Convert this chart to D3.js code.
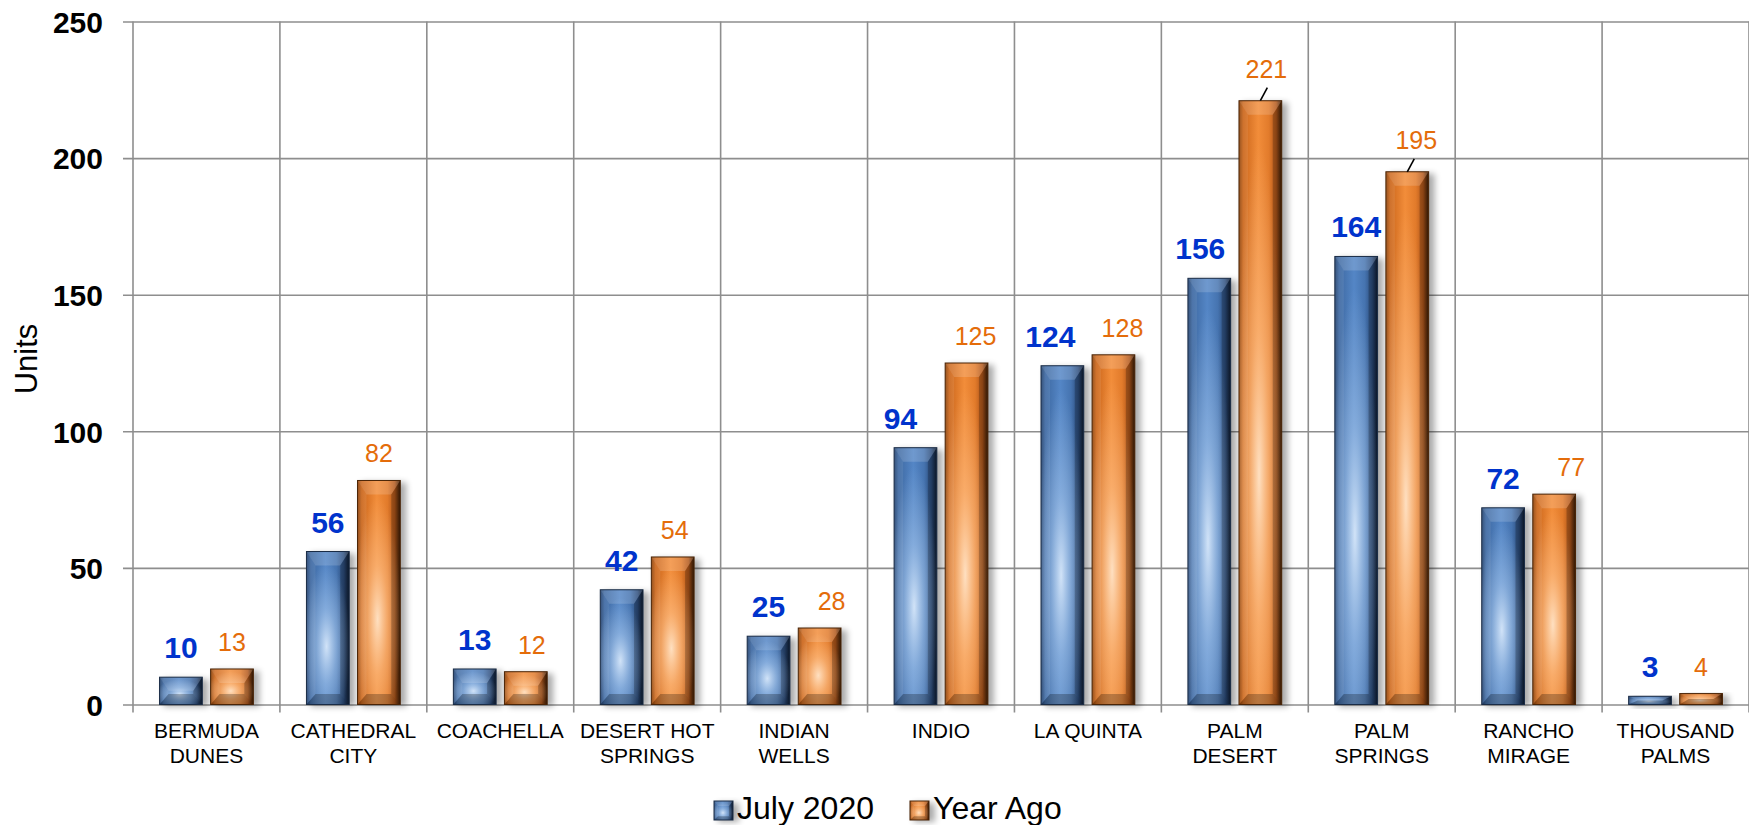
<!DOCTYPE html>
<html><head><meta charset="utf-8">
<script src="https://cdn.jsdelivr.net/npm/d3@7"></script>
<style>
html,body{margin:0;padding:0;background:#fff;}
svg{display:block;font-family:"Liberation Sans",Arial,Helvetica,sans-serif;}
</style></head><body>
<svg id="chart" width="1749" height="825"></svg>
<script>
// ---------------- data ----------------
const categories = ["BERMUDA DUNES","CATHEDRAL CITY","COACHELLA","DESERT HOT SPRINGS","INDIAN WELLS","INDIO","LA QUINTA","PALM DESERT","PALM SPRINGS","RANCHO MIRAGE","THOUSAND PALMS"];
const categoryLines = [["BERMUDA","DUNES"],["CATHEDRAL","CITY"],["COACHELLA"],["DESERT HOT","SPRINGS"],["INDIAN","WELLS"],["INDIO"],["LA QUINTA"],["PALM","DESERT"],["PALM","SPRINGS"],["RANCHO","MIRAGE"],["THOUSAND","PALMS"]];
const seriesNames = ["July 2020","Year Ago"];
const july2020 = [10,56,13,42,25,94,124,156,164,72,3];
const yearAgo  = [13,82,12,54,28,125,128,221,195,77,4];
const yTicks = [0,50,100,150,200,250];
const yTitle = "Units";

// ---------------- label placement (style) ----------------
const labelNudgeX = { "July 2020":[0,0,0,0,0,-15,-12,-9,0,0,0], "Year Ago":[0,0,6,2,12,9,9,6,9,17,0] };
const leaderIdx = { "Year Ago":[7,8] };

// ---------------- layout ----------------
const W = 1749, H = 825;
const plotL = 133, plotR = 1749, plotT = 21.5, plotB = 704.5;
const svg = d3.select("#chart");

const y = d3.scaleLinear().domain([0,250]).range([plotB, plotT]);
const x0 = d3.scaleBand().domain(categories).range([plotL, plotR]);
const x1 = d3.scaleBand().domain(seriesNames).range([0, x0.bandwidth()]).paddingInner(0.163).paddingOuter(0.52);

const styles = {
  "July 2020": {body:"bodyBlue", glow:"glowBlue", stroke:"#1a2c46", label:"#0033CC", weight:"bold", size:30, gap:19},
  "Year Ago":  {body:"bodyOrange", glow:"glowOrange", stroke:"#4a2406", label:"#E46C0A", weight:"normal", size:25, gap:18}
};

// ---------------- defs ----------------
const defs = svg.append("defs");
function linGrad(id, stops){
  const g = defs.append("linearGradient").attr("id", id).attr("x1",0).attr("y1",0).attr("x2",1).attr("y2",0);
  stops.forEach(s=>g.append("stop").attr("offset",s[0]).attr("stop-color",s[1]));
}
function radGrad(id, stops){
  const g = defs.append("radialGradient").attr("id", id).attr("cx",0.47).attr("cy",0.62).attr("r",0.55);
  stops.forEach(s=>g.append("stop").attr("offset",s[0]).attr("stop-color",s[1]).attr("stop-opacity",s[2]));
}
linGrad("bodyBlue", [[0,"#26446f"],[0.1,"#3e69a2"],[0.45,"#5486c6"],[0.7,"#4674b0"],[0.87,"#2d4e7e"],[1,"#0f1c30"]]);
radGrad("glowBlue", [[0,"#d8e8fa",0.95],[0.45,"#a9c9ee",0.55],[1,"#a9c9ee",0]]);
linGrad("bodyOrange", [[0,"#8e450d"],[0.1,"#cc671c"],[0.45,"#f28d3a"],[0.7,"#e27b2b"],[0.87,"#b2571a"],[1,"#3b1d06"]]);
radGrad("glowOrange", [[0,"#ffe4c8",0.95],[0.45,"#ffc48e",0.55],[1,"#ffc48e",0]]);
const f = defs.append("filter").attr("id","shadow").attr("x","-30%").attr("y","-30%").attr("width","160%").attr("height","160%");
f.append("feGaussianBlur").attr("stdDeviation",3);

// ---------------- gridlines / axes ----------------
const gy = svg.append("g").attr("transform",`translate(${plotL-10},0)`)
  .call(d3.axisLeft(y).tickValues(yTicks).tickSize(-(plotR-plotL+10)).tickPadding(20));
gy.select(".domain").remove();
gy.selectAll(".tick line").attr("stroke","#8e8e8e").attr("stroke-width",1.6);
gy.selectAll(".tick text").attr("fill","#000").attr("font-size",30).attr("font-weight","bold")
  .attr("font-family","'Liberation Sans',Arial,sans-serif").attr("dy","0.36em");

const bounds = categories.map(c=>x0(c)).concat([x0(categories[categories.length-1]) + x0.bandwidth()]);
svg.append("g").selectAll("line").data(bounds).join("line")
  .attr("x1",d=>d).attr("x2",d=>d).attr("y1",y(250)).attr("y2",plotB+8)
  .attr("stroke","#8e8e8e").attr("stroke-width",1.6);

const gx = svg.append("g").attr("transform",`translate(0,${plotB})`)
  .call(d3.axisBottom(x0).tickSize(0).tickPadding(0));
gx.select(".domain").remove();
gx.selectAll(".tick text").each(function(d){
  const t = d3.select(this).text(null).attr("y",0).attr("dy",null)
    .attr("fill","#000").attr("font-size",21).attr("font-family","'Liberation Sans',Arial,sans-serif");
  categoryLines[categories.indexOf(d)].forEach((ln,i)=>{
    t.append("tspan").attr("x",0).attr("y", 33.5 + i*24.5).text(ln);
  });
});

svg.append("text").attr("transform",`translate(37,359) rotate(-90)`)
  .attr("text-anchor","middle").attr("font-size",31).attr("fill","#000").text(yTitle);

// ---------------- bars ----------------
function drawBar(g, x, yy, w, h, st, bevX, bevY){
  const bx = Math.min(bevX, w/2), by = Math.min(bevY, h/2), bb = Math.min(bevY*0.75, h/2);
  g.append("rect").attr("x",x+4).attr("y",yy+2).attr("width",w+2).attr("height",h)
    .attr("fill","#000").attr("opacity",0.33).attr("filter","url(#shadow)");
  g.append("rect").attr("x",x).attr("y",yy).attr("width",w).attr("height",h).attr("fill",`url(#${st.body})`);
  g.append("rect").attr("x",x).attr("y",yy).attr("width",w).attr("height",h).attr("fill",`url(#${st.glow})`);
  const poly = pts => g.append("polygon").attr("points", pts.map(p=>p.join(",")).join(" "));
  poly([[x,yy],[x+w,yy],[x+w-bx,yy+by],[x+bx,yy+by]]).attr("fill","#fff").attr("opacity",0.16);
  poly([[x,yy],[x+bx,yy+by],[x+bx,yy+h-bb],[x,yy+h]]).attr("fill","#fff").attr("opacity",0.08);
  poly([[x+w,yy],[x+w-bx,yy+by],[x+w-bx,yy+h-bb],[x+w,yy+h]]).attr("fill","#000").attr("opacity",0.22);
  poly([[x,yy+h],[x+bx,yy+h-bb],[x+w-bx,yy+h-bb],[x+w,yy+h]]).attr("fill","#000").attr("opacity",0.25);
  g.append("rect").attr("x",x).attr("y",yy).attr("width",w).attr("height",h)
    .attr("fill","none").attr("stroke",st.stroke).attr("stroke-width",1);
}

const rows = categories.map((c,i)=>({cat:c, i, values:[
  {series:"July 2020", value:july2020[i]}, {series:"Year Ago", value:yearAgo[i]}]}));

const gBars = svg.append("g");
rows.forEach(r=>{
  r.values.forEach(v=>{
    const st = styles[v.series];
    const bx = x0(r.cat) + x1(v.series), w = x1.bandwidth();
    const top = y(v.value), h = y(0) - top;
    drawBar(gBars.append("g"), bx, top, w, h, st, 9, 14);
  });
});

// ---------------- value labels ----------------
const gLab = svg.append("g").attr("font-family","'Liberation Sans',Arial,sans-serif");
rows.forEach(r=>{
  r.values.forEach(v=>{
    const st = styles[v.series];
    const cx = x0(r.cat) + x1(v.series) + x1.bandwidth()/2;
    const top = y(v.value);
    const lead = (leaderIdx[v.series]||[]).includes(r.i);
    const tx = cx + labelNudgeX[v.series][r.i];
    const ty = top - (lead ? 23 : st.gap);
    gLab.append("text").attr("x",tx).attr("y",ty).attr("text-anchor","middle")
      .attr("font-size",st.size).attr("font-weight",st.weight).attr("fill",st.label).text(v.value);
    if(lead){
      gLab.append("line").attr("x1",cx).attr("y1",top).attr("x2",cx+7).attr("y2",top-13)
        .attr("stroke","#000").attr("stroke-width",1.6);
    }
  });
});

// ---------------- legend ----------------
const leg = svg.append("g").attr("font-family","'Liberation Sans',Arial,sans-serif");
let lx = 714;
seriesNames.forEach((s,i)=>{
  const g = leg.append("g");
  drawBar(g, lx, 801, 19, 19, styles[s], 4, 5);
  const t = g.append("text").attr("x",lx+23).attr("y",819).attr("font-size",32).attr("fill","#000").text(s);
  lx = lx + 23 + t.node().getComputedTextLength() + 36;
});
</script>
</body></html>
